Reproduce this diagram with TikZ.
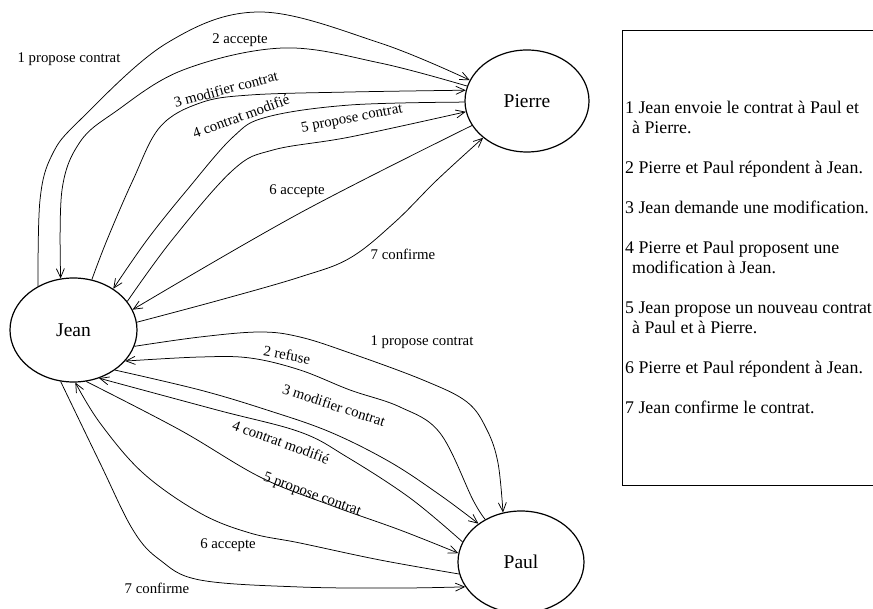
\documentclass[tikz,border=0pt]{standalone}
\usepackage{fontspec}
\setmainfont{Liberation Serif}
\usetikzlibrary{shapes.geometric,arrows.meta}
\begin{document}
\begin{tikzpicture}[x=1pt,y=-1pt,
  actor/.style={draw,ellipse,inner sep=0pt,line width=1.2pt,
    font=\fontsize{19.5}{22}\selectfont},
  msg/.style={line width=0.75pt,-{Straight Barb[length=9pt,width=8pt,line width=0.75pt]}},
  lbl/.style={inner sep=0pt,font=\fontsize{14.8}{16}\selectfont},
  legend/.style={inner sep=0pt,align=left,font=\fontsize{17.8}{20}\selectfont}]
\useasboundingbox (0,0) rectangle (873,609);
\clip (0,0) rectangle (873,609);

% the three parties
\node[actor,minimum width=127pt,minimum height=104pt] (jean) at (73.5,330) {Jean};
\node[actor,minimum width=124pt,minimum height=102pt] (pierre) at (527,101) {Pierre};
\node[actor,minimum width=126pt,minimum height=102pt] (paul) at (521,562) {Paul};

% messages between Jean and Pierre
\draw[msg] plot[smooth,tension=0.6] coordinates {(jean.129) (40,200) (52,155) (80,120) (167,43) (260,12) (380,43) (pierre.160)};
\draw[msg] plot[smooth,tension=0.6] coordinates {(pierre.166) (380,63) (283,48) (183,70) (115,112) (80,142) (62,190) (jean.104)};
\draw[msg] plot[smooth,tension=0.6] coordinates {(jean.70) (107,240) (133,180) (160,127) (200,103) (250,95) (350,92) (pierre.170)};
\draw[msg] plot[smooth,tension=0.6] coordinates {(pierre.181) (350,105) (267,117) (233,137) (187,190) (147,240) (jean.46)};
\draw[msg] plot[smooth,tension=0.6] coordinates {(jean.28) (172,240) (233,170) (273,150) (350,137) (pierre.190)};
\draw[msg] plot[smooth,tension=0.6] coordinates {(pierre.204) (300,213) (jean.19)};
\draw[msg] plot[smooth,tension=0.6] coordinates {(jean.7) (220,300) (300,277) (350,258) (395,222) (437,180) (pierre.220)};

\node[lbl] (tp1) at (69,59) {1 propose contrat};
\node[lbl] (tp2) at (240,40) {2 accepte};
\node[lbl,rotate=15] (tp3) at (226,89) {3 modifier contrat};
\node[lbl,rotate=20] (tp4) at (241,116) {4 contrat modifié};
\node[lbl,rotate=11] (tp5) at (352,119) {5 propose contrat};
\node[lbl] (tp6) at (297,191) {6 accepte};
\node[lbl] (tp7) at (403,254) {7 confirme};

% messages between Jean and Paul
\draw[msg] plot[smooth,tension=0.6] coordinates {(jean.-15) (200,337) (260,332) (300,337) (350,353) (423,380) (467,402) (487,430) (498,463) (paul.110)};
\draw[msg] plot[smooth,tension=0.6] coordinates {(paul.130) (473,500) (440,433) (400,407) (350,390) (300,370) (250,358) (200,357) (jean.-31)};
\draw[msg] plot[smooth,tension=0.6] coordinates {(jean.-44) (200,390) (267,410) (330,432) (390,462) (440,495) (paul.138)};
\draw[msg] plot[smooth,tension=0.6] coordinates {(paul.161) (410,498) (347,457) (300,432) (217,410) (jean.-62)};
\draw[msg] plot[smooth,tension=0.6] coordinates {(jean.-76) (180,430) (260,477) (330,505) (400,530) (paul.172)};
\draw[msg] plot[smooth,tension=0.6] coordinates {(paul.191) (380,560) (300,543) (250,533) (200,513) (143,473) (100,423) (jean.-88)};
\draw[msg] plot[smooth,tension=0.6] coordinates {(jean.-104) (100,463) (133,530) (160,560) (200,580) (300,587) (400,588) (paul.204)};

\node[lbl] (bp1) at (422,342) {1 propose contrat};
\node[lbl,rotate=-10] (bp2) at (287,355) {2 refuse};
\node[lbl,rotate=-18] (bp3) at (334,405) {3 modifier contrat};
\node[lbl,rotate=-20] (bp4) at (281,442) {4 contrat modifié};
\node[lbl,rotate=-20] (bp5) at (312,495) {5 propose contrat};
\node[lbl] (bp6) at (228,545) {6 accepte};
\node[lbl] (bp7) at (157,588) {7 confirme};

% legend
\draw[line width=0.8pt] (622,30) rectangle (900,485);
\node[legend,anchor=west] (steps) at (625,257) {%
1 Jean envoie le contrat à Paul et\\
\hspace*{7pt}à Pierre.\\[20pt]
2 Pierre et Paul répondent à Jean.\\[20pt]
3 Jean demande une modification.\\[20pt]
4 Pierre et Paul proposent une\\
\hspace*{7pt}modification à Jean.\\[20pt]
5 Jean propose un nouveau contrat\\
\hspace*{7pt}à Paul et à Pierre.\\[20pt]
6 Pierre et Paul répondent à Jean.\\[20pt]
7 Jean confirme le contrat.};
\end{tikzpicture}
\end{document}
